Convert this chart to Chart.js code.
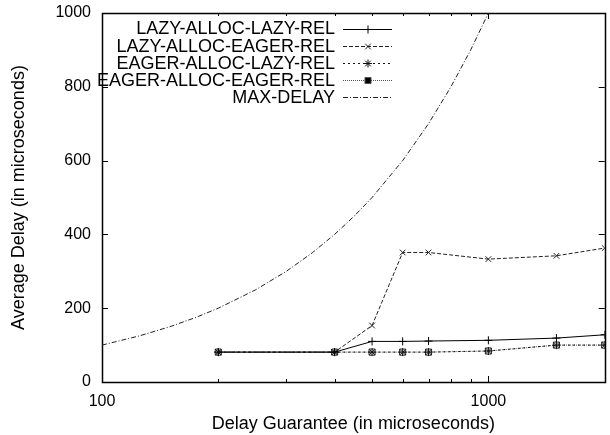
<!DOCTYPE html>
<html>
<head>
<meta charset="utf-8">
<script src="https://cdn.jsdelivr.net/npm/chart.js@4"></script>
<style>
  body { margin: 0; background: #fff; }
  #wrap { width: 610px; height: 435px; }
</style>
</head>
<body>
<div id="wrap"><canvas id="DelayChart" width="610" height="435"></canvas></div>
<script>
var delayGuarantee = [200, 400, 500, 600, 700, 1000, 1500, 2000];
var lazyAllocLazyRel = [81, 81, 110, 110, 111, 113, 119, 128];
var lazyAllocEagerRel = [81, 81, 153, 351, 351, 333, 342, 363];
var eagerAllocLazyRel = [81, 81, 81, 81, 81, 84, 100, 100];
var eagerAllocEagerRel = [81, 81, 81, 81, 81, 84, 100, 100];
var maxDelayX = [100, 125, 150, 175, 200, 250, 300, 350, 400, 450, 500, 600, 700, 800, 900, 1000];
var maxDelayY = [100, 125, 150, 175, 200, 250, 300, 350, 400, 450, 500, 600, 700, 800, 900, 1000];
var xTicks = [100, 200, 300, 400, 500, 600, 700, 800, 900, 1000, 2000];
var xLabels = [100, 1000];
var seriesNames = ['LAZY-ALLOC-LAZY-REL', 'LAZY-ALLOC-EAGER-REL', 'EAGER-ALLOC-LAZY-REL', 'EAGER-ALLOC-EAGER-REL', 'MAX-DELAY'];

function pairs(xs, ys) {
  return xs.map(function(x, i) { return {x: x, y: ys[i]}; });
}

// gnuplot style key: text right aligned, sample line on the right
var gnuKey = {
  id: 'gnuKey',
  afterDraw: function(chart) {
    var ctx = chart.ctx;
    ctx.save();
    ctx.font = '18px "Liberation Sans", Arial, sans-serif';
    ctx.textAlign = 'right';
    ctx.textBaseline = 'middle';
    chart.data.datasets.forEach(function(ds, i) {
      var y = 28.5 + i * 17.1;
      ctx.fillStyle = '#000';
      ctx.fillText(ds.label, 335, y + 1);
      ctx.strokeStyle = ds.borderColor;
      ctx.lineWidth = 1;
      ctx.setLineDash(ds.borderDash || []);
      ctx.beginPath();
      ctx.moveTo(343, Math.round(y) + 0.5);
      ctx.lineTo(392, Math.round(y) + 0.5);
      ctx.stroke();
      ctx.setLineDash([]);
      if (ds.pointRadius > 0) {
        Chart.helpers.drawPoint(ctx, {
          pointStyle: ds.pointStyle, radius: ds.pointRadius, rotation: 0, borderWidth: 1
        }, 368, Math.round(y) + 0.5);
      }
    });
    ctx.restore();
  }
};

// frame with inward ticks on all four sides
var gnuFrame = {
  id: 'gnuFrame',
  beforeDatasetsDraw: function(chart) {
    var a = chart.chartArea, ctx = chart.ctx;
    var xs = chart.scales.x, ys = chart.scales.y;
    ctx.save();
    ctx.strokeStyle = '#000';
    ctx.lineWidth = 1;
    ctx.beginPath();
    xTicks.forEach(function(v) {
      var px = Math.round(xs.getPixelForValue(v)) + 0.5;
      var len = xLabels.indexOf(v) >= 0 ? 6 : 3;
      ctx.moveTo(px, a.bottom); ctx.lineTo(px, a.bottom - len);
      ctx.moveTo(px, a.top); ctx.lineTo(px, a.top + len);
    });
    ys.ticks.forEach(function(t) {
      var py = Math.round(ys.getPixelForValue(t.value)) + 0.5;
      ctx.moveTo(a.left, py); ctx.lineTo(a.left + 6, py);
      ctx.moveTo(a.right, py); ctx.lineTo(a.right - 6, py);
    });
    ctx.stroke();
    ctx.lineWidth = 1.5;
    ctx.strokeRect(Math.round(a.left) + 0.5, Math.round(a.top) + 0.5,
      Math.round(a.right - a.left), Math.round(a.bottom - a.top));
    ctx.restore();
  }
};

Chart.defaults.font.family = '"Liberation Sans", Arial, sans-serif';
Chart.defaults.font.size = 16;
Chart.defaults.color = '#000';

new Chart(document.getElementById('DelayChart'), {
  type: 'line',
  data: {
    datasets: [{
      label: seriesNames[0],
      data: pairs(delayGuarantee, lazyAllocLazyRel),
      borderColor: '#000', backgroundColor: '#000', borderWidth: 1,
      pointStyle: 'cross', pointRadius: 4, pointBorderWidth: 1
    }, {
      label: seriesNames[1],
      data: pairs(delayGuarantee, lazyAllocEagerRel),
      borderColor: '#222', backgroundColor: '#222', borderWidth: 1, borderDash: [4, 2],
      pointStyle: 'crossRot', pointRadius: 4, pointBorderWidth: 1
    }, {
      label: seriesNames[2],
      data: pairs(delayGuarantee, eagerAllocLazyRel),
      borderColor: '#111', backgroundColor: '#111', borderWidth: 1, borderDash: [2, 3],
      pointStyle: 'star', pointRadius: 4, pointBorderWidth: 1
    }, {
      label: seriesNames[3],
      data: pairs(delayGuarantee, eagerAllocEagerRel),
      borderColor: '#555', backgroundColor: 'rgba(0,0,0,0)', borderWidth: 1, borderDash: [1, 1],
      pointStyle: 'rect', pointRadius: 4.3, pointBorderWidth: 1, pointBorderColor: '#222'
    }, {
      label: seriesNames[4],
      data: pairs(maxDelayX, maxDelayY),
      borderColor: '#222', backgroundColor: '#222', borderWidth: 1, borderDash: [5, 2, 1, 2],
      pointRadius: 0, tension: 0
    }]
  },
  options: {
    responsive: false,
    animation: false,
    layout: { padding: { left: 0, top: 13, right: 5, bottom: 0 } },
    plugins: {
      legend: { display: false },
      tooltip: { enabled: false }
    },
    scales: {
      x: {
        type: 'logarithmic',
        min: 100, max: 2000,
        afterBuildTicks: function(scale) {
          scale.ticks = xTicks.map(function(v) { return {value: v}; });
        },
        afterFit: function(scale) {
          scale.height = 53;
          scale.paddingLeft = 0;
          scale.paddingRight = 0;
        },
        ticks: {
          autoSkip: false, maxRotation: 0, padding: 10,
          callback: function(v) { return xLabels.indexOf(v) >= 0 ? String(v) : ''; }
        },
        grid: { display: false, drawTicks: false },
        border: { display: false },
        title: {
          display: true, text: 'Delay Guarantee (in microseconds)',
          font: { size: 18 },
          padding: { top: 0, bottom: 0 }
        }
      },
      y: {
        min: 0, max: 1000,
        afterFit: function(scale) {
          scale.width = 102;
          scale.paddingTop = 0;
          scale.paddingBottom = 0;
        },
        ticks: {
          stepSize: 200, padding: 11,
          callback: function(v) { return String(v); }
        },
        grid: { display: false, drawTicks: false },
        border: { display: false },
        title: {
          display: true, text: 'Average Delay (in microseconds)',
          font: { size: 18 },
          padding: { top: 8, bottom: 0 }
        }
      }
    }
  },
  plugins: [gnuFrame, gnuKey]
});
</script>
</body>
</html>
